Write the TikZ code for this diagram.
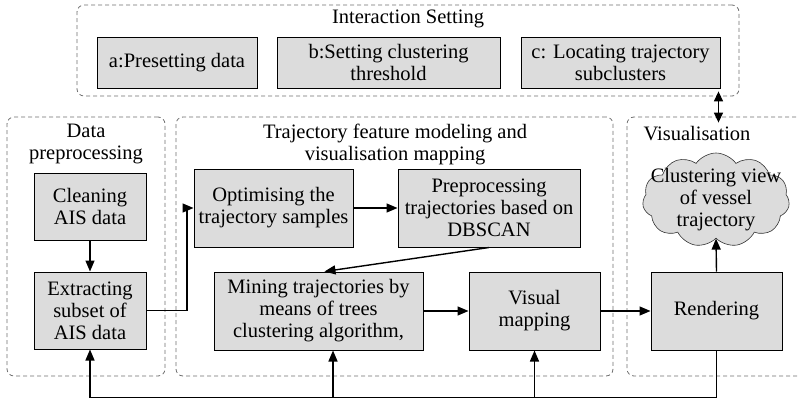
\documentclass[tikz,border=0pt]{standalone}
\usepackage{fontspec}
\setmainfont{Liberation Serif}
\usetikzlibrary{shapes.symbols,arrows.meta,calc}
\definecolor{boxgray}{RGB}{220,220,220}
\definecolor{framegray}{RGB}{110,110,110}
\tikzset{
  txt/.style={font=\fontsize{20.5}{22}\selectfont, align=center, inner sep=0pt},
  stage/.style={txt, draw=black, fill=boxgray, line width=1pt},
  group/.style={draw=framegray, line width=0.8pt, dash pattern=on 4pt off 3pt, rounded corners=7pt, inner sep=0pt},
  arr/.style={line width=1.4pt, -{Triangle[length=11pt,width=9pt]}},
  link/.style={line width=1.4pt},
  dblarr/.style={line width=1.4pt, {Triangle[length=10pt,width=9pt]}-{Triangle[length=10pt,width=9pt]}}
}
\begin{document}
\begin{tikzpicture}[x=1pt,y=-1pt]
\clip (0,0) rectangle (798,399);
\useasboundingbox (0,0) rectangle (798,399);

% dashed frames of the four stages
\node[group, minimum width=662pt, minimum height=91pt] (gtop) at (408,50.5) {};
\node[group, minimum width=158pt, minimum height=259pt] (gdata) at (86,246.5) {};
\node[group, minimum width=437pt, minimum height=259pt] (gmid) at (394.5,246.5) {};
\node[group, minimum width=190pt, minimum height=259pt] (gvis) at (722,246.5) {};

% frame titles
\node[txt] (ttop) at (408,19) {Interaction Setting};
\node[txt] (tdata) at (86,144) {Data\\preprocessing};
\node[txt] (tmid) at (395,144) {Trajectory feature modeling and\\visualisation mapping};
\node[txt] (tvis) at (697,134) {Visualisation};

% interaction settings
\node[stage, minimum width=160pt, minimum height=51pt] (pa) at (177,62.5) {a:Presetting data};
\node[stage, minimum width=223pt, minimum height=51pt] (pb) at (388.5,62.5) {b:Setting clustering\\threshold};
\node[stage, minimum width=199pt, minimum height=51pt] (pc) at (620.5,62.5) {c: Locating trajectory\\subclusters};

% processing stages
\node[stage, minimum width=112pt, minimum height=67pt] (clean) at (90,206.5) {Cleaning\\AIS data};
\node[stage, minimum width=112pt, minimum height=77pt] (extract) at (90,310.5) {Extracting\\subset of\\AIS data};
\node[stage, minimum width=159pt, minimum height=78pt] (optim) at (273.5,208) {Optimising the\\trajectory samples};
\node[stage, minimum width=182pt, minimum height=78pt] (prep) at (489,208) {Preprocessing\\trajectories based on\\DBSCAN};
\node[stage, minimum width=209pt, minimum height=78pt] (mine) at (318.5,311) {Mining trajectories by\\means of trees\\clustering algorithm,};
\node[stage, minimum width=131pt, minimum height=78pt] (vmap) at (534.5,311) {Visual\\mapping};
\node[stage, minimum width=131pt, minimum height=78pt] (render) at (716.5,311) {Rendering};

% result cloud
\node[cloud, cloud puffs=11, cloud puff arc=110, aspect=1.6, draw=black!80, fill=boxgray, line width=0.6pt,
      minimum width=147pt, minimum height=94pt, inner sep=0pt] (cloudshape) at (716,200) {};
\node[txt] (cloudtext) at (716,200) {Clustering view\\of vessel\\trajectory};

% main flow
\draw[arr] (clean.south) -- (extract.north);
\coordinate (j1) at (187,310.5);
\draw[arr] (extract.east) -- (j1) |- (optim.west);
\draw[arr] (optim.east) -- (prep.west);
\draw[arr] (prep.south) -- ([xshift=6pt]mine.north);
\draw[arr] (mine.east) -- (vmap.west);
\draw[arr] (vmap.east) -- (render.west);
\draw[arr] (render.north) -- (cloudshape.south);

% link between interaction settings and visualisation
\draw[dblarr] ([xshift=-2pt,yshift=5pt]pc.south east |- gtop.south) -- ([xshift=-2pt,yshift=-6pt]pc.south east |- gvis.north);

% feedback bus along the bottom
\coordinate (busR) at ([yshift=-47pt]render.south);
\coordinate (busL) at (extract.south |- busR);
\draw[link] (render.south) -- (busR) -- (busL);
\draw[arr] (busL) -- (extract.south);
\draw[arr] ([xshift=14.5pt]mine.south |- busR) -- ([xshift=14.5pt]mine.south);
\draw[arr] (vmap.south |- busR) -- (vmap.south);
\end{tikzpicture}
\end{document}
